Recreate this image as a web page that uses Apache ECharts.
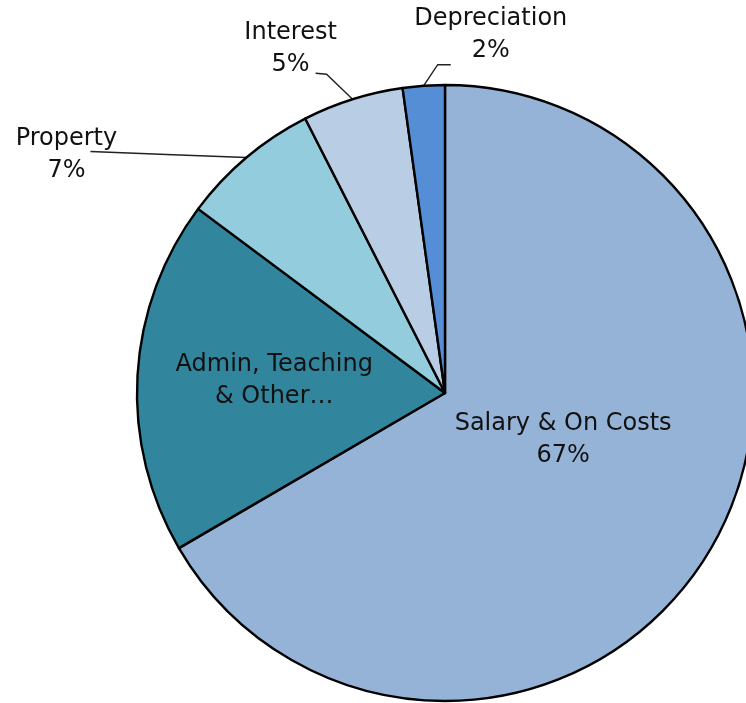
<!DOCTYPE html>
<html><head><meta charset="utf-8">
<script src="https://cdn.jsdelivr.net/npm/echarts@6/dist/echarts.min.js"></script>
<style>html,body{margin:0;padding:0;background:#fff}#c{width:746px;height:703px}</style>
</head><body><div id="c"></div>
<script>
var categories = ['Salary & On Costs', 'Admin, Teaching & Other…', 'Property', 'Interest', 'Depreciation'];
var values = [66.6, 18.6, 7.3, 5.3, 2.2];
var labelTexts = ['Salary & On Costs', 'Admin, Teaching\n& Other…', 'Property', 'Interest', 'Depreciation'];
var showPercent = [true, false, true, true, true];
var colors = ['#95B3D7', '#31859C', '#93CDDD', '#B9CDE5', '#558ED5'];

var chart = echarts.init(document.getElementById('c'));
var data = categories.map(function (c, i) {
  var outside = i >= 2;
  return {
    name: c, value: values[i],
    itemStyle: { color: colors[i] },
    label: { position: outside ? 'outside' : 'inside' },
    labelLine: { show: outside }
  };
});
chart.setOption({
  backgroundColor: '#fff',
  animation: false,
  series: [{
    type: 'pie',
    center: [445, 393],
    radius: 308,
    startAngle: 90,
    clockwise: true,
    avoidLabelOverlap: false,
    itemStyle: { borderColor: '#000', borderWidth: 2.4 },
    label: {
      fontFamily: 'DejaVu Sans',
      fontSize: 24,
      lineHeight: 32,
      color: '#111',
      align: 'center',
      formatter: function (p) {
        var t = labelTexts[p.dataIndex];
        if (showPercent[p.dataIndex]) t += '\n' + Math.round(p.percent) + '%';
        return t;
      }
    },
    labelLine: { lineStyle: { color: '#222', width: 1.4 }, length: 10, length2: 10 },
    labelLayout: function (p) {
      var i = p.dataIndex;
      if (i === 0) return { dx: -18, dy: -31 };
      if (i === 1) return { dx: -14, dy: -3 };
      var e = p.labelLinePoints ? p.labelLinePoints[0] : [0, 0];
      if (i === 2) return { x: e[0] - 180, y: e[1] - 3, align: 'center', verticalAlign: 'middle',
        labelLinePoints: [e, [e[0] - 80, e[1] - 3], [e[0] - 156, e[1] - 6]] };
      if (i === 3) return { x: e[0] - 62, y: e[1] - 50, align: 'center', verticalAlign: 'middle',
        labelLinePoints: [e, [e[0] - 26, e[1] - 25], [e[0] - 37, e[1] - 26]] };
      return { x: e[0] + 67, y: e[1] - 51, align: 'center', verticalAlign: 'middle',
        labelLinePoints: [e, [e[0] + 14, e[1] - 21], [e[0] + 27, e[1] - 21]] };
    },
    data: data
  }]
});
</script></body></html>
